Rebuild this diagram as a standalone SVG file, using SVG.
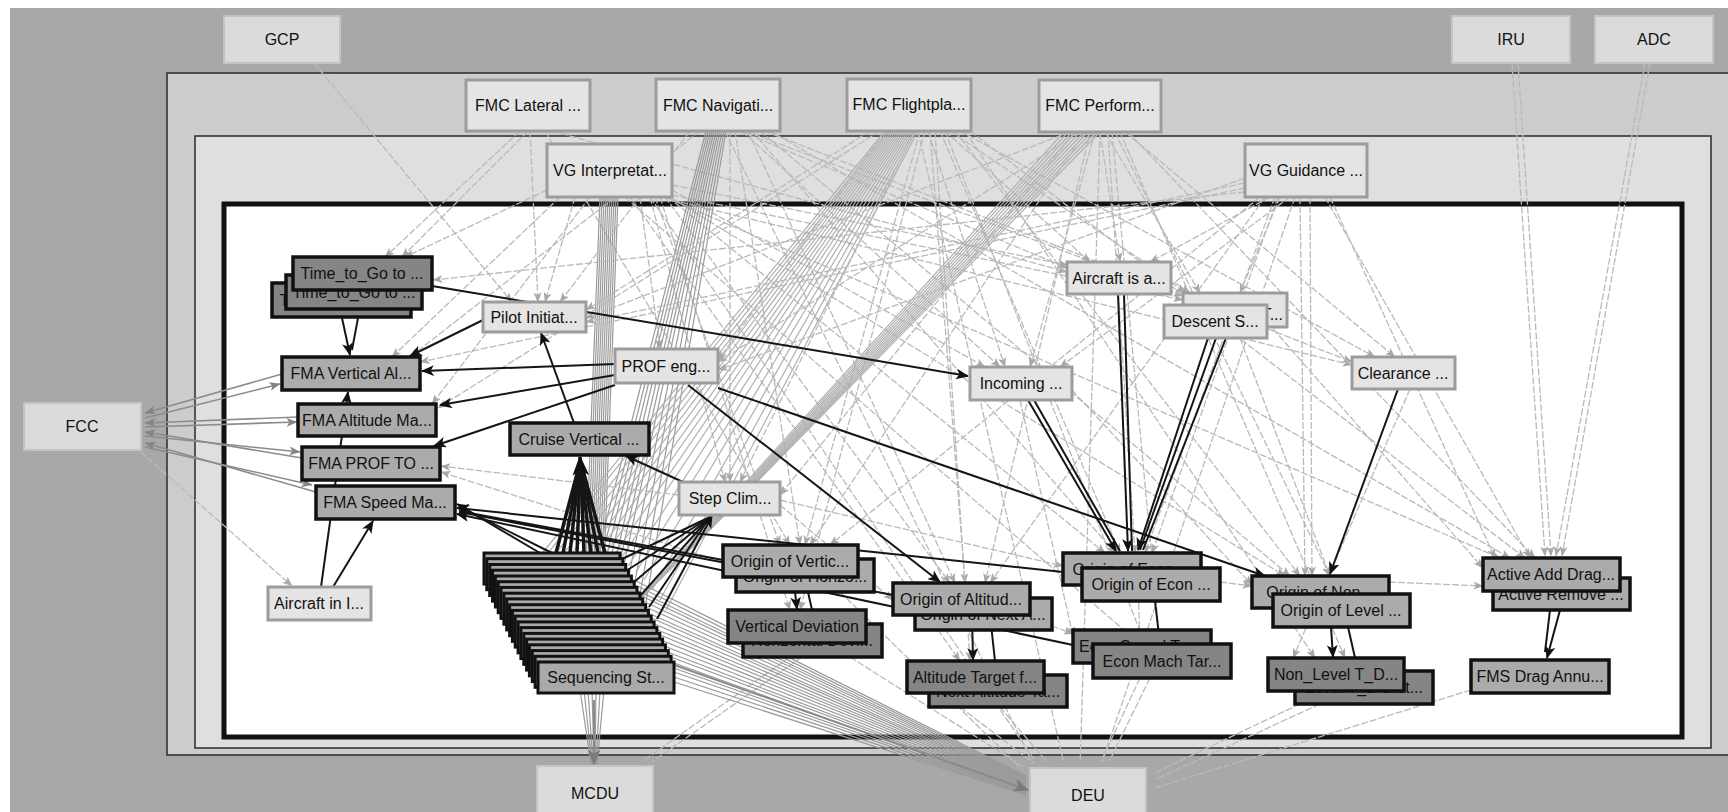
<svg xmlns="http://www.w3.org/2000/svg" width="1728" height="812" viewBox="0 0 1728 812">
<defs>
<style>
.t{font-family:"Liberation Sans",Arial,sans-serif;font-size:16px;fill:#111;text-anchor:middle}
.no{fill:#dbdbdb;stroke:#c4c4c4;stroke-width:2}
.nl{fill:#e4e4e4;stroke:#9c9c9c;stroke-width:3}
.nm{fill:#ababab;stroke:#111;stroke-width:3.5}
.nd{fill:#858585;stroke:#111;stroke-width:3.5}
.ns{fill:#a9a9a9;stroke:#111;stroke-width:3}
.ln{stroke:#bababa;stroke-width:1.3;fill:none;stroke-dasharray:7 2;marker-end:url(#ag)}
.bn{stroke:#b0b0b0;stroke-width:1.2;fill:none}
.bd{stroke:#9a9a9a;stroke-width:1.2;fill:none}
.lf{stroke:#8c8c8c;stroke-width:1.6;fill:none;marker-end:url(#af)}
.lb{stroke:#151515;stroke-width:2;fill:none;marker-end:url(#ab)}
.lk{stroke:#151515;stroke-width:2;fill:none}
.lt{stroke:#151515;stroke-width:3.5;fill:none}
</style>
<marker id="ag" viewBox="0 0 10 8" refX="9.5" refY="4" markerWidth="10" markerHeight="8" markerUnits="userSpaceOnUse" orient="auto"><path d="M0,0 L10,4 L0,8 L2.5,4 z" fill="#a8a8a8"/></marker>
<marker id="af" viewBox="0 0 10 8" refX="9.5" refY="4" markerWidth="11" markerHeight="9" markerUnits="userSpaceOnUse" orient="auto"><path d="M0,0 L10,4 L0,8 L2.5,4 z" fill="#858585"/></marker>
<marker id="ab" viewBox="0 0 12 10" refX="11" refY="5" markerWidth="13" markerHeight="11" markerUnits="userSpaceOnUse" orient="auto"><path d="M0,0 L12,5 L0,10 L3,5 z" fill="#111"/></marker>
<marker id="abig" viewBox="0 0 12 10" refX="11" refY="5" markerWidth="20" markerHeight="17" markerUnits="userSpaceOnUse" orient="auto"><path d="M0,0 L12,5 L0,10 L3,5 z" fill="#111"/></marker>
<marker id="agbig" viewBox="0 0 12 10" refX="11" refY="5" markerWidth="16" markerHeight="13" markerUnits="userSpaceOnUse" orient="auto"><path d="M0,0 L12,5 L0,10 L3,5 z" fill="#7a7a7a"/></marker>
</defs>

<!-- backdrop and nested containers -->
<rect x="0" y="0" width="1728" height="812" fill="#ffffff"/>
<rect x="10" y="8" width="1718" height="804" fill="#a8a8a8"/>
<rect x="167" y="73" width="1580" height="682" fill="#cccccc" stroke="#2a2a2a" stroke-width="1.5"/>
<rect x="195" y="136" width="1516" height="612" fill="#dfdfdf" stroke="#2a2a2a" stroke-width="1.5"/>
<rect x="224" y="204" width="1458" height="533" fill="#ffffff" stroke="#111" stroke-width="5"/>

<g id="connectors">
<!-- GCP / FMC Lateral -->
<line class="ln" x1="314" y1="63" x2="512" y2="302"/>
<line class="ln" x1="520" y1="131" x2="385" y2="257"/>
<line class="ln" x1="528" y1="131" x2="402" y2="257"/>
<line class="ln" x1="530" y1="131" x2="538" y2="302"/>
<line class="ln" x1="545" y1="131" x2="790" y2="545"/>
<line class="ln" x1="552" y1="131" x2="1067" y2="272"/>
<!-- VG Interpretation -->
<line class="ln" x1="547" y1="190" x2="405" y2="257"/>
<line class="ln" x1="560" y1="197" x2="392" y2="357"/>
<line class="ln" x1="575" y1="197" x2="545" y2="302"/>
<line class="ln" x1="640" y1="197" x2="660" y2="349"/>
<line class="ln" x1="650" y1="197" x2="725" y2="482"/>
<line class="ln" x1="655" y1="197" x2="780" y2="545"/>
<line class="ln" x1="660" y1="197" x2="790" y2="610"/>
<line class="ln" x1="665" y1="197" x2="950" y2="583"/>
<line class="ln" x1="672" y1="190" x2="985" y2="367"/>
<line class="ln" x1="672" y1="185" x2="1067" y2="265"/>
<line class="ln" x1="668" y1="197" x2="1105" y2="553"/>
<line class="ln" x1="672" y1="195" x2="1183" y2="300"/>
<line class="ln" x1="670" y1="197" x2="1285" y2="576"/>
<line class="ln" x1="672" y1="200" x2="1352" y2="365"/>
<line class="ln" x1="665" y1="197" x2="1500" y2="558"/>
<line class="ln" x1="650" y1="197" x2="1040" y2="768"/>
<line class="ln" x1="590" y1="197" x2="432" y2="404"/>
<line class="ln" x1="630" y1="197" x2="960" y2="661"/>
<line class="ln" x1="625" y1="197" x2="1140" y2="644"/>
<line class="bd" x1="600" y1="197" x2="586" y2="553"/>
<line class="bd" x1="602" y1="197" x2="588" y2="555"/>
<line class="bd" x1="604" y1="197" x2="590" y2="556"/>
<line class="bd" x1="606" y1="197" x2="592" y2="558"/>
<line class="bd" x1="608" y1="197" x2="594" y2="559"/>
<line class="bd" x1="610" y1="197" x2="596" y2="561"/>
<line class="bd" x1="612" y1="197" x2="598" y2="562"/>
<line class="bd" x1="614" y1="197" x2="600" y2="564"/>
<line class="bd" x1="616" y1="197" x2="602" y2="565"/>
<line class="bd" x1="618" y1="197" x2="604" y2="567"/>
<!-- FMC Navigation -->
<line class="bd" x1="706" y1="131" x2="598" y2="553"/>
<line class="bd" x1="708" y1="131" x2="602" y2="556"/>
<line class="bd" x1="710" y1="131" x2="606" y2="558"/>
<line class="bd" x1="712" y1="131" x2="610" y2="561"/>
<line class="bd" x1="714" y1="131" x2="614" y2="566"/>
<line class="bd" x1="716" y1="131" x2="618" y2="570"/>
<line class="bd" x1="718" y1="131" x2="622" y2="574"/>
<line class="bd" x1="720" y1="131" x2="628" y2="580"/>
<line class="bd" x1="722" y1="131" x2="634" y2="586"/>
<line class="bd" x1="724" y1="131" x2="640" y2="594"/>
<line class="bd" x1="726" y1="131" x2="646" y2="602"/>
<line class="ln" x1="700" y1="131" x2="410" y2="357"/>
<line class="ln" x1="690" y1="131" x2="560" y2="302"/>
<line class="ln" x1="740" y1="131" x2="1067" y2="268"/>
<line class="ln" x1="745" y1="131" x2="1183" y2="296"/>
<line class="ln" x1="735" y1="131" x2="800" y2="545"/>
<line class="ln" x1="748" y1="131" x2="955" y2="583"/>
<line class="ln" x1="752" y1="131" x2="1115" y2="553"/>
<line class="ln" x1="760" y1="131" x2="1290" y2="576"/>
<line class="ln" x1="770" y1="131" x2="1510" y2="558"/>
<line class="ln" x1="742" y1="131" x2="1000" y2="367"/>
<line class="ln" x1="730" y1="131" x2="730" y2="482"/>
<line class="ln" x1="765" y1="131" x2="1352" y2="362"/>
<line class="ln" x1="725" y1="131" x2="1035" y2="768"/>
<!-- FMC Flightplan -->
<line class="bn" x1="885" y1="131" x2="540" y2="556"/>
<line class="bn" x1="888" y1="131" x2="548" y2="553"/>
<line class="bn" x1="890" y1="131" x2="556" y2="553"/>
<line class="bn" x1="892" y1="131" x2="564" y2="553"/>
<line class="bn" x1="894" y1="131" x2="572" y2="553"/>
<line class="bn" x1="896" y1="131" x2="580" y2="553"/>
<line class="bn" x1="898" y1="131" x2="588" y2="553"/>
<line class="bn" x1="900" y1="131" x2="596" y2="555"/>
<line class="bn" x1="902" y1="131" x2="604" y2="556"/>
<line class="bn" x1="904" y1="131" x2="612" y2="558"/>
<line class="bn" x1="906" y1="131" x2="620" y2="560"/>
<line class="bn" x1="908" y1="131" x2="628" y2="566"/>
<line class="bn" x1="910" y1="131" x2="636" y2="572"/>
<line class="bn" x1="912" y1="131" x2="644" y2="580"/>
<line class="bn" x1="914" y1="131" x2="652" y2="590"/>
<line class="bn" x1="916" y1="131" x2="660" y2="600"/>
<line class="bn" x1="918" y1="131" x2="666" y2="610"/>
<line class="ln" x1="880" y1="131" x2="438" y2="408"/>
<line class="ln" x1="870" y1="131" x2="586" y2="310"/>
<line class="ln" x1="885" y1="131" x2="718" y2="360"/>
<line class="ln" x1="920" y1="131" x2="805" y2="545"/>
<line class="ln" x1="925" y1="131" x2="800" y2="610"/>
<line class="ln" x1="930" y1="131" x2="965" y2="583"/>
<line class="ln" x1="935" y1="131" x2="970" y2="661"/>
<line class="ln" x1="928" y1="131" x2="1005" y2="367"/>
<line class="ln" x1="940" y1="131" x2="1120" y2="553"/>
<line class="ln" x1="945" y1="131" x2="1145" y2="644"/>
<line class="ln" x1="950" y1="131" x2="1190" y2="293"/>
<line class="ln" x1="945" y1="131" x2="1090" y2="262"/>
<line class="ln" x1="960" y1="131" x2="1375" y2="357"/>
<line class="ln" x1="955" y1="131" x2="1300" y2="576"/>
<line class="ln" x1="965" y1="131" x2="1315" y2="658"/>
<line class="ln" x1="970" y1="131" x2="1525" y2="558"/>
<line class="ln" x1="915" y1="131" x2="740" y2="482"/>
<line class="ln" x1="918" y1="131" x2="1065" y2="768"/>
<!-- FMC Performance -->
<line class="bn" x1="1064" y1="132" x2="628" y2="612"/>
<line class="bn" x1="1068" y1="132" x2="636" y2="604"/>
<line class="bn" x1="1072" y1="132" x2="644" y2="596"/>
<line class="bn" x1="1076" y1="132" x2="652" y2="588"/>
<line class="bn" x1="1080" y1="132" x2="660" y2="580"/>
<line class="bn" x1="1084" y1="132" x2="668" y2="572"/>
<line class="bn" x1="1088" y1="132" x2="676" y2="564"/>
<line class="bn" x1="1092" y1="132" x2="684" y2="556"/>
<line class="bn" x1="1096" y1="132" x2="692" y2="548"/>
<line class="bn" x1="1100" y1="132" x2="700" y2="540"/>
<line class="ln" x1="1100" y1="132" x2="1120" y2="262"/>
<line class="ln" x1="1105" y1="132" x2="1200" y2="293"/>
<line class="ln" x1="1108" y1="132" x2="1135" y2="553"/>
<line class="ln" x1="1112" y1="132" x2="1160" y2="644"/>
<line class="ln" x1="1115" y1="132" x2="1330" y2="576"/>
<line class="ln" x1="1120" y1="132" x2="1345" y2="658"/>
<line class="ln" x1="1125" y1="132" x2="1395" y2="357"/>
<line class="ln" x1="1128" y1="132" x2="1535" y2="558"/>
<line class="ln" x1="1095" y1="132" x2="1030" y2="367"/>
<line class="ln" x1="1090" y1="132" x2="985" y2="583"/>
<line class="ln" x1="1085" y1="132" x2="810" y2="545"/>
<line class="ln" x1="1080" y1="132" x2="718" y2="362"/>
<line class="ln" x1="1070" y1="132" x2="586" y2="318"/>
<line class="ln" x1="1100" y1="132" x2="1080" y2="768"/>
<line class="ln" x1="1075" y1="132" x2="780" y2="495"/>
<!-- VG Guidance -->
<line class="ln" x1="1245" y1="178" x2="718" y2="370"/>
<line class="ln" x1="1245" y1="183" x2="586" y2="322"/>
<line class="ln" x1="1245" y1="188" x2="420" y2="362"/>
<line class="ln" x1="1245" y1="192" x2="433" y2="280"/>
<line class="ln" x1="1270" y1="197" x2="1150" y2="262"/>
<line class="ln" x1="1280" y1="197" x2="1240" y2="293"/>
<line class="ln" x1="1275" y1="197" x2="1145" y2="553"/>
<line class="ln" x1="1278" y1="197" x2="1152" y2="553"/>
<line class="ln" x1="1300" y1="197" x2="1305" y2="576"/>
<line class="ln" x1="1310" y1="197" x2="1312" y2="576"/>
<line class="ln" x1="1325" y1="197" x2="1530" y2="558"/>
<line class="ln" x1="1330" y1="197" x2="1495" y2="558"/>
<line class="ln" x1="1290" y1="197" x2="1060" y2="367"/>
<line class="ln" x1="1265" y1="197" x2="990" y2="583"/>
<line class="ln" x1="1260" y1="197" x2="830" y2="545"/>
<line class="ln" x1="1295" y1="197" x2="1100" y2="768"/>
<!-- IRU / ADC -->
<line class="ln" x1="1512" y1="63" x2="1545" y2="556"/>
<line class="ln" x1="1518" y1="63" x2="1551" y2="556"/>
<line class="ln" x1="1650" y1="63" x2="1562" y2="556"/>
<line class="ln" x1="1645" y1="63" x2="1556" y2="556"/>
<!-- FCC links -->
<line class="lf" x1="282" y1="374" x2="145" y2="413"/>
<line class="lf" x1="145" y1="418" x2="280" y2="384"/>
<line class="lf" x1="298" y1="417" x2="145" y2="423"/>
<line class="lf" x1="145" y1="427" x2="297" y2="422"/>
<line class="lf" x1="302" y1="458" x2="145" y2="432"/>
<line class="lf" x1="145" y1="436" x2="300" y2="452"/>
<line class="lf" x1="316" y1="492" x2="145" y2="443"/>
<line class="lf" x1="145" y1="447" x2="312" y2="485"/>
<line class="ln" x1="141" y1="452" x2="292" y2="586"/>
<!-- links between inner nodes -->
<line class="ln" x1="679" y1="495" x2="441" y2="466"/>
<line class="ln" x1="723" y1="562" x2="441" y2="472"/>
<line class="ln" x1="780" y1="505" x2="893" y2="600"/>
<line class="ln" x1="780" y1="500" x2="1063" y2="566"/>
<line class="ln" x1="1072" y1="390" x2="1252" y2="585"/>
<line class="ln" x1="1020" y1="400" x2="1073" y2="636"/>
<line class="ln" x1="1267" y1="322" x2="1483" y2="568"/>
<line class="ln" x1="1220" y1="582" x2="1252" y2="586"/>
<line class="ln" x1="1389" y1="582" x2="1483" y2="586"/>
<line class="ln" x1="1052" y1="626" x2="1073" y2="634"/>
<line class="ln" x1="1138" y1="585" x2="1140" y2="643"/>
<line class="ln" x1="1171" y1="282" x2="1185" y2="293"/>
<line class="ln" x1="1240" y1="338" x2="1330" y2="576"/>
<line class="ln" x1="1410" y1="389" x2="1293" y2="658"/>
<!-- into DEU and MCDU -->
<line class="ln" x1="850" y1="657" x2="1030" y2="771"/>
<line class="ln" x1="840" y1="592" x2="1028" y2="775"/>
<line class="ln" x1="960" y1="707" x2="1040" y2="768"/>
<line class="ln" x1="1000" y1="707" x2="1052" y2="768"/>
<line class="ln" x1="1140" y1="678" x2="1098" y2="768"/>
<line class="ln" x1="1150" y1="678" x2="1106" y2="768"/>
<line class="ln" x1="1300" y1="704" x2="1148" y2="776"/>
<line class="ln" x1="1320" y1="704" x2="1148" y2="783"/>
<line class="ln" x1="1471" y1="690" x2="1148" y2="790"/>
<line class="ln" x1="790" y1="657" x2="636" y2="766"/>
<line class="ln" x1="802" y1="657" x2="646" y2="766"/>
<line class="bd" x1="580" y1="690" x2="591" y2="764"/>
<line class="bd" x1="584" y1="690" x2="592" y2="764"/>
<line class="bd" x1="588" y1="690" x2="593" y2="764"/>
<line class="bd" x1="592" y1="690" x2="594" y2="764"/>
<line class="bd" x1="596" y1="690" x2="595" y2="764"/>
<line class="bd" x1="600" y1="690" x2="596" y2="764"/>
<line class="bd" x1="604" y1="690" x2="597" y2="764"/>
<line x1="594" y1="700" x2="594" y2="764" stroke="#8a8a8a" stroke-width="2" marker-end="url(#agbig)"/>
<line class="bd" x1="620" y1="573" x2="1026" y2="776"/>
<line class="bd" x1="623" y1="579" x2="1026" y2="777"/>
<line class="bd" x1="626" y1="585" x2="1026" y2="778"/>
<line class="bd" x1="629" y1="590" x2="1026" y2="779"/>
<line class="bd" x1="632" y1="596" x2="1026" y2="780"/>
<line class="bd" x1="635" y1="602" x2="1026" y2="781"/>
<line class="bd" x1="637" y1="608" x2="1026" y2="782"/>
<line class="bd" x1="640" y1="613" x2="1026" y2="783"/>
<line class="bd" x1="643" y1="619" x2="1026" y2="784"/>
<line class="bd" x1="646" y1="625" x2="1026" y2="785"/>
<line class="bd" x1="648" y1="630" x2="1026" y2="786"/>
<line class="bd" x1="651" y1="636" x2="1026" y2="787"/>
<line class="bd" x1="654" y1="642" x2="1026" y2="788"/>
<line class="bd" x1="657" y1="648" x2="1026" y2="789"/>
<line class="bd" x1="660" y1="653" x2="1026" y2="790"/>
<line class="bd" x1="663" y1="659" x2="1026" y2="791"/>
<line class="bd" x1="665" y1="665" x2="1026" y2="792"/>
<line class="bd" x1="668" y1="670" x2="1026" y2="793"/>
<line class="bd" x1="671" y1="676" x2="1026" y2="794"/>
<line class="bd" x1="674" y1="682" x2="1026" y2="795"/>
<line x1="660" y1="660" x2="1028" y2="790" stroke="#8a8a8a" stroke-width="2" marker-end="url(#agbig)"/>

<!-- dark links -->
<line class="lb" x1="342" y1="318" x2="350" y2="355" marker-end="url(#abig)"/>
<line class="lk" x1="358" y1="318" x2="352" y2="350"/>
<line class="lb" x1="432" y1="286" x2="968" y2="376"/>
<line class="lb" x1="483" y1="320" x2="410" y2="356"/>
<line class="lb" x1="615" y1="364" x2="422" y2="371"/>
<line class="lb" x1="615" y1="375" x2="440" y2="405"/>
<line class="lb" x1="615" y1="385" x2="434" y2="446"/>
<line class="lb" x1="574" y1="423" x2="541" y2="333"/>
<line class="lb" x1="683" y1="482" x2="626" y2="456"/>
<line class="lt" x1="556" y1="553" x2="578" y2="470"/>
<line class="lt" x1="563" y1="553" x2="579" y2="470"/>
<line class="lt" x1="570" y1="553" x2="579" y2="470"/>
<line class="lt" x1="577" y1="553" x2="580" y2="470"/>
<line class="lt" x1="584" y1="553" x2="581" y2="470"/>
<line class="lt" x1="591" y1="553" x2="581" y2="470"/>
<line class="lt" x1="598" y1="553" x2="582" y2="470"/>
<line class="lt" x1="605" y1="553" x2="583" y2="470"/>
<line class="lt" x1="581" y1="480" x2="580" y2="457" marker-end="url(#abig)"/>
<line class="lk" x1="620" y1="560" x2="710" y2="517"/>
<line class="lk" x1="626" y1="571" x2="710" y2="517"/>
<line class="lk" x1="633" y1="583" x2="710" y2="517"/>
<line class="lk" x1="641" y1="595" x2="710" y2="517"/>
<line class="lk" x1="649" y1="607" x2="710" y2="517"/>
<line class="lb" x1="657" y1="619" x2="712" y2="516"/>
<line class="lb" x1="540" y1="553" x2="457" y2="504"/>
<line class="lk" x1="552" y1="553" x2="460" y2="507"/>
<line class="lk" x1="723" y1="560" x2="459" y2="511"/>
<line class="lb" x1="1063" y1="572" x2="457" y2="508"/>
<line class="lk" x1="893" y1="595" x2="459" y2="512"/>
<line class="lb" x1="1073" y1="645" x2="457" y2="514"/>
<line class="lb" x1="321" y1="587" x2="348" y2="392"/>
<line class="lb" x1="333" y1="587" x2="373" y2="521"/>
<line class="lb" x1="688" y1="385" x2="940" y2="582"/>
<line class="lb" x1="718" y1="388" x2="1265" y2="576"/>
<line class="lb" x1="1028" y1="400" x2="1116" y2="551"/>
<line class="lk" x1="1034" y1="400" x2="1120" y2="551"/>
<line class="lb" x1="1118" y1="294" x2="1128" y2="551"/>
<line class="lk" x1="1124" y1="294" x2="1132" y2="551"/>
<line class="lb" x1="1208" y1="338" x2="1138" y2="550"/>
<line class="lk" x1="1216" y1="338" x2="1140" y2="550"/>
<line class="lk" x1="1226" y1="338" x2="1143" y2="550"/>
<line class="lb" x1="1398" y1="389" x2="1330" y2="574"/>
<line class="lb" x1="1331" y1="627" x2="1333" y2="657"/>
<line class="lk" x1="1348" y1="627" x2="1358" y2="671"/>
<line class="lk" x1="1550" y1="610" x2="1545" y2="652"/>
<line class="lb" x1="1560" y1="610" x2="1547" y2="658" marker-end="url(#abig)"/>
<line class="lb" x1="795" y1="592" x2="797" y2="609"/>
<line class="lk" x1="808" y1="592" x2="812" y2="610"/>
<line class="lb" x1="972" y1="615" x2="973" y2="660"/>
<line class="lk" x1="990" y1="615" x2="995" y2="661"/>
<line class="lk" x1="1155" y1="601" x2="1160" y2="644"/>
</g>

<!-- nodes outside the FMS boundary -->
<g id="n-gcp"><rect class="no" x="224" y="16" width="116" height="47"/><text class="t" x="282" y="45">GCP</text></g>
<g id="n-iru"><rect class="no" x="1452" y="16" width="118" height="47"/><text class="t" x="1511" y="45">IRU</text></g>
<g id="n-adc"><rect class="no" x="1595" y="16" width="118" height="47"/><text class="t" x="1654" y="45">ADC</text></g>
<g id="n-fcc"><rect class="no" x="24" y="403" width="117" height="47"/><text class="t" x="82" y="432">FCC</text></g>
<g id="n-mcdu"><rect class="no" x="537" y="766" width="116" height="56"/><text class="t" x="595" y="799">MCDU</text></g>
<g id="n-deu"><rect class="no" x="1030" y="768" width="116" height="56"/><text class="t" x="1088" y="801">DEU</text></g>

<!-- FMC functions -->
<g id="n-fmc-lat"><rect class="nl" x="466" y="80" width="124" height="51"/><text class="t" x="528" y="111">FMC Lateral ...</text></g>
<g id="n-fmc-nav"><rect class="nl" x="656" y="79" width="124" height="52"/><text class="t" x="718" y="111">FMC Navigati...</text></g>
<g id="n-fmc-fp"><rect class="nl" x="847" y="79" width="124" height="52"/><text class="t" x="909" y="110">FMC Flightpla...</text></g>
<g id="n-fmc-perf"><rect class="nl" x="1039" y="80" width="122" height="52"/><text class="t" x="1100" y="111">FMC Perform...</text></g>
<g id="n-vg-int"><rect class="nl" x="547" y="144" width="125" height="53"/><text class="t" x="610" y="176">VG Interpretat...</text></g>
<g id="n-vg-gui"><rect class="nl" x="1245" y="144" width="122" height="53"/><text class="t" x="1306" y="176">VG Guidance ...</text></g>

<!-- vertical guidance states -->
<g id="n-ttg3"><rect class="nd" x="272" y="283" width="139" height="34"/><text class="t" x="341" y="306">Time_to_Go to ...</text></g>
<g id="n-ttg2"><rect class="nd" x="286" y="275" width="136" height="34"/><text class="t" x="354" y="298">Time_to_Go to ...</text></g>
<g id="n-ttg1"><rect class="nd" x="293" y="257" width="139" height="33"/><text class="t" x="362" y="279">Time_to_Go to ...</text></g>
<g id="n-fma-v"><rect class="nm" x="282" y="357" width="138" height="33"/><text class="t" x="351" y="379">FMA Vertical Al...</text></g>
<g id="n-fma-a"><rect class="nm" x="298" y="404" width="138" height="32"/><text class="t" x="367" y="426">FMA Altitude Ma...</text></g>
<g id="n-fma-p"><rect class="nm" x="302" y="447" width="138" height="33"/><text class="t" x="371" y="469">FMA PROF TO ...</text></g>
<g id="n-fma-s"><rect class="nm" x="316" y="486" width="139" height="33"/><text class="t" x="385" y="508">FMA Speed Ma...</text></g>
<g id="n-pilot"><rect class="nl" x="483" y="302" width="103" height="30"/><text class="t" x="534" y="323">Pilot Initiat...</text></g>
<g id="n-prof"><rect class="nl" x="615" y="349" width="103" height="34"/><text class="t" x="666" y="372">PROF eng...</text></g>
<g id="n-cruise"><rect class="nm" x="510" y="423" width="139" height="32"/><text class="t" x="579" y="445">Cruise Vertical ...</text></g>
<g id="n-step"><rect class="nl" x="679" y="482" width="101" height="33"/><text class="t" x="730" y="504">Step Clim...</text></g>
<g id="n-acin"><rect class="nl" x="268" y="587" width="103" height="33"/><text class="t" x="319" y="609">Aircraft in I...</text></g>
<g id="n-inc"><rect class="nl" x="970" y="367" width="102" height="33"/><text class="t" x="1021" y="389">Incoming ...</text></g>
<g id="n-aca"><rect class="nl" x="1067" y="262" width="104" height="32"/><text class="t" x="1119" y="284">Aircraft is a...</text></g>
<g id="n-desc2"><rect class="nl" x="1183" y="293" width="104" height="34"/><text class="t" x="1283" y="320" style="text-anchor:end">Descent T...</text></g>
<g id="n-desc1"><rect class="nl" x="1164" y="305" width="103" height="33"/><text class="t" x="1215" y="327">Descent S...</text></g>
<g id="n-clear"><rect class="nl" x="1352" y="357" width="103" height="32"/><text class="t" x="1403" y="379">Clearance ...</text></g>

<!-- sequencing stack -->
<g id="n-seq-a"><rect class="ns" x="484" y="553" width="136" height="31"/></g>
<g id="n-seq-b"><rect class="ns" x="486.8" y="558.7" width="136" height="31"/></g>
<g id="n-seq-c"><rect class="ns" x="489.7" y="564.5" width="136" height="31"/></g>
<g id="n-seq-d"><rect class="ns" x="492.5" y="570.2" width="136" height="31"/></g>
<g id="n-seq-e"><rect class="ns" x="495.4" y="576" width="136" height="31"/></g>
<g id="n-seq-f"><rect class="ns" x="498.2" y="581.7" width="136" height="31"/></g>
<g id="n-seq-g"><rect class="ns" x="501" y="587.4" width="136" height="31"/></g>
<g id="n-seq-h"><rect class="ns" x="503.9" y="593.2" width="136" height="31"/></g>
<g id="n-seq-i"><rect class="ns" x="506.7" y="598.9" width="136" height="31"/></g>
<g id="n-seq-j"><rect class="ns" x="509.6" y="604.7" width="136" height="31"/></g>
<g id="n-seq-k"><rect class="ns" x="512.4" y="610.4" width="136" height="31"/></g>
<g id="n-seq-l"><rect class="ns" x="515.2" y="616.1" width="136" height="31"/></g>
<g id="n-seq-m"><rect class="ns" x="518.1" y="621.9" width="136" height="31"/></g>
<g id="n-seq-n"><rect class="ns" x="520.9" y="627.6" width="136" height="31"/></g>
<g id="n-seq-o"><rect class="ns" x="523.8" y="633.4" width="136" height="31"/></g>
<g id="n-seq-p"><rect class="ns" x="526.6" y="639.1" width="136" height="31"/></g>
<g id="n-seq-q"><rect class="ns" x="529.4" y="644.8" width="136" height="31"/></g>
<g id="n-seq-r"><rect class="ns" x="532.3" y="650.6" width="136" height="31"/></g>
<g id="n-seq-s"><rect class="ns" x="535.1" y="656.3" width="136" height="31"/></g>
<g id="n-seq"><rect class="ns" x="538" y="662" width="136" height="31"/><text class="t" x="606" y="683">Sequencing St...</text></g>

<!-- origins and targets -->
<g id="n-oh"><rect class="nm" x="736" y="559" width="138" height="33"/><text class="t" x="805" y="582">Origin of Horizo...</text></g>
<g id="n-ov"><rect class="nm" x="723" y="545" width="135" height="32"/><text class="t" x="790" y="567">Origin of Vertic...</text></g>
<g id="n-hd"><rect class="nd" x="743" y="624" width="139" height="33"/><text class="t" x="812" y="646">Horizontal Devi...</text></g>
<g id="n-vd"><rect class="nd" x="728" y="610" width="138" height="33"/><text class="t" x="797" y="632">Vertical Deviation</text></g>
<g id="n-on2"><rect class="nm" x="915" y="598" width="137" height="32"/><text class="t" x="983" y="620">Origin of Next A...</text></g>
<g id="n-oa"><rect class="nm" x="893" y="583" width="137" height="32"/><text class="t" x="961" y="605">Origin of Altitud...</text></g>
<g id="n-nat"><rect class="nd" x="929" y="675" width="138" height="32"/><text class="t" x="998" y="697">Next Altitude Ta...</text></g>
<g id="n-at"><rect class="nd" x="907" y="661" width="137" height="32"/><text class="t" x="975" y="683">Altitude Target f...</text></g>
<g id="n-oe2"><rect class="nm" x="1063" y="553" width="138" height="32"/><text class="t" x="1132" y="575">Origin of Econ ...</text></g>
<g id="n-oe"><rect class="nm" x="1082" y="568" width="138" height="33"/><text class="t" x="1151" y="590">Origin of Econ ...</text></g>
<g id="n-es"><rect class="nd" x="1073" y="630" width="138" height="33"/><text class="t" x="1142" y="652">Econ Speed Tar...</text></g>
<g id="n-em"><rect class="nd" x="1093" y="644" width="138" height="34"/><text class="t" x="1162" y="667">Econ Mach Tar...</text></g>
<g id="n-onl"><rect class="nm" x="1252" y="576" width="137" height="32"/><text class="t" x="1320" y="598">Origin of Non...</text></g>
<g id="n-ol"><rect class="nm" x="1273" y="594" width="137" height="33"/><text class="t" x="1341" y="616">Origin of Level ...</text></g>
<g id="n-ltd"><rect class="nd" x="1295" y="671" width="138" height="33"/><text class="t" x="1364" y="693">Level T_D Dist...</text></g>
<g id="n-nltd"><rect class="nd" x="1268" y="658" width="136" height="33"/><text class="t" x="1336" y="680">Non_Level T_D...</text></g>
<g id="n-ard"><rect class="nm" x="1493" y="578" width="137" height="32"/><text class="t" x="1561" y="600">Active Remove ...</text></g>
<g id="n-aad"><rect class="nm" x="1483" y="558" width="137" height="33"/><text class="t" x="1551" y="580">Active Add Drag...</text></g>
<g id="n-fms"><rect class="nm" x="1471" y="660" width="138" height="33"/><text class="t" x="1540" y="682">FMS Drag Annu...</text></g>
</svg>
